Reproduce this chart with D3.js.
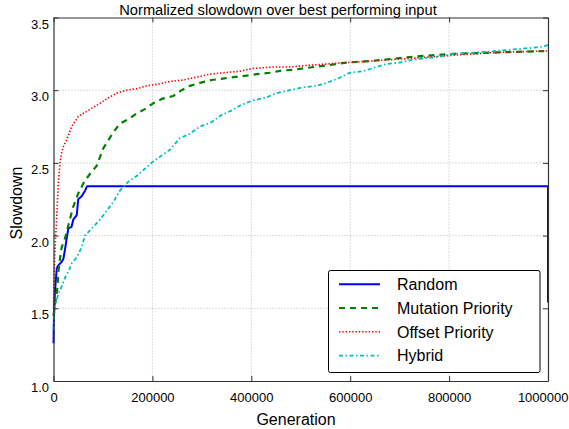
<!DOCTYPE html>
<html>
<head>
<meta charset="utf-8">
<script src="https://cdn.jsdelivr.net/npm/d3@7/dist/d3.min.js"></script>
<style>
  html, body { margin: 0; padding: 0; background: #fff; }
  svg { display: block; font-family: "Liberation Sans", Arial, Helvetica, sans-serif; }
</style>
</head>
<body>
<svg id="chart" width="569" height="429"></svg>
<script>
// ---------------- data ----------------
const seriesNames = ["Random", "Mutation Priority", "Offset Priority", "Hybrid"];

const randomGen = [0, 1000, 3000, 6500, 8500, 16500, 20000, 23000, 29900, 36500, 40000, 47000, 50000, 57000, 64000, 68000, 1000000, 1000000];
const randomVal = [1.26, 1.46, 1.62, 1.77, 1.79, 1.82, 1.84, 1.90, 2.05, 2.06, 2.11, 2.14, 2.25, 2.27, 2.31, 2.34, 2.34, 1.54];

const mutationGen = [0, 3000, 6500, 8500, 9700, 13100, 16600, 23200, 29900, 40000, 50100, 63600, 87300, 94000, 100600, 120800, 134300, 151100, 168100, 184800, 201600, 218600, 242000, 259000, 275700, 296000, 319600, 343000, 363200, 390300, 410500, 437300, 461000, 484400, 504600, 551900, 592000, 640000, 726000, 807000, 900000, 1000000];
const mutationVal = [1.45, 1.53, 1.60, 1.67, 1.75, 1.84, 1.92, 1.98, 2.07, 2.20, 2.29, 2.38, 2.48, 2.54, 2.60, 2.71, 2.77, 2.80, 2.84, 2.87, 2.91, 2.94, 2.96, 3.00, 3.03, 3.05, 3.07, 3.08, 3.09, 3.10, 3.11, 3.12, 3.135, 3.14, 3.15, 3.17, 3.19, 3.20, 3.23, 3.25, 3.26, 3.27];

const offsetGen = [0, 1000, 3000, 6500, 9700, 13000, 16500, 19800, 26700, 36800, 50100, 70000, 94000, 107500, 127700, 147900, 168100, 188300, 208500, 235300, 262200, 289300, 316100, 343000, 376700, 403600, 444000, 477700, 511500, 551900, 592300, 660000, 726200, 807000, 895000, 1000000];
const offsetVal = [1.5, 1.7, 1.9, 2.13, 2.36, 2.5, 2.57, 2.61, 2.66, 2.75, 2.82, 2.86, 2.91, 2.94, 2.98, 3.00, 3.01, 3.03, 3.04, 3.06, 3.07, 3.09, 3.11, 3.12, 3.13, 3.15, 3.16, 3.16, 3.17, 3.18, 3.19, 3.205, 3.22, 3.24, 3.26, 3.27];

const hybridGen = [0, 1500, 3000, 9700, 16600, 23200, 29900, 36800, 46900, 57000, 63600, 80400, 94000, 107500, 120800, 134300, 151100, 168100, 184800, 201600, 218600, 235300, 255500, 275700, 296000, 319600, 339800, 360000, 380200, 403600, 430700, 450900, 477700, 504600, 531700, 551900, 575300, 598900, 625800, 652900, 673100, 700000, 726200, 753900, 780800, 807000, 834700, 861500, 895300, 928200, 962500, 988800, 1000000];
const hybridVal = [1.35, 1.45, 1.51, 1.60, 1.65, 1.71, 1.75, 1.81, 1.85, 1.92, 2.00, 2.06, 2.11, 2.17, 2.23, 2.31, 2.37, 2.41, 2.46, 2.51, 2.55, 2.59, 2.67, 2.70, 2.75, 2.78, 2.83, 2.86, 2.90, 2.93, 2.95, 2.98, 3.00, 3.02, 3.03, 3.05, 3.08, 3.12, 3.13, 3.16, 3.18, 3.19, 3.21, 3.22, 3.23, 3.25, 3.255, 3.26, 3.27, 3.28, 3.29, 3.30, 3.31];

const xTicks = [0, 200000, 400000, 600000, 800000, 1000000];
const yTicks = [1.0, 1.5, 2.0, 2.5, 3.0, 3.5];

const titleText = "Normalized slowdown over best performing input";
const xLabel = "Generation";
const yLabel = "Slowdown";

// ---------------- layout / styles ----------------
const W = 569;
const L = 53.5, R = 548, T = 17.5, B = 381;
const svg = d3.select("#chart");

const x = d3.scaleLinear().domain([0, 1000000]).range([L, R]);
const y = d3.scaleLinear().domain([1.0, 3.5]).range([B, T]);

const styles = [
  { color: "#0000ff", width: 2, dash: null },
  { color: "#008000", width: 2.2, dash: "6,5" },
  { color: "#ff0000", width: 1.6, dash: "1.4,1.9" },
  { color: "#00bfbf", width: 1.8, dash: "4,2.5,1.5,2.5" }
];

// grid
const grid = svg.append("g");
grid.selectAll("line.gx").data(xTicks.slice(1, -1)).join("line")
  .attr("x1", d => x(d)).attr("x2", d => x(d)).attr("y1", T).attr("y2", B)
  .attr("stroke", "#b8b8b8").attr("stroke-width", 1).attr("stroke-dasharray", "1,2");
grid.selectAll("line.gy").data(yTicks.slice(1, -1)).join("line")
  .attr("x1", L).attr("x2", R).attr("y1", d => y(d)).attr("y2", d => y(d))
  .attr("stroke", "#b8b8b8").attr("stroke-width", 1).attr("stroke-dasharray", "1,2");

// series
const series = [
  { gen: randomGen, val: randomVal },
  { gen: mutationGen, val: mutationVal },
  { gen: offsetGen, val: offsetVal },
  { gen: hybridGen, val: hybridVal }
];
const line = d3.line().x(d => x(d[0])).y(d => y(d[1]));
series.forEach((s, i) => {
  const pts = s.gen.map((g, j) => [g, s.val[j]]);
  svg.append("path").datum(pts)
    .attr("d", line)
    .attr("fill", "none")
    .attr("stroke", styles[i].color)
    .attr("stroke-width", styles[i].width)
    .attr("stroke-dasharray", styles[i].dash)
    .attr("stroke-linejoin", "round");
});

// axes
const axisColor = "#333";
const gx = svg.append("g").attr("transform", `translate(0,${B})`)
  .call(d3.axisBottom(x).tickValues(xTicks).tickFormat(d3.format("d")).tickSize(-5).tickSizeOuter(0));
gx.selectAll("text").attr("y", 0).attr("dy", 20.5).style("font-size", "13px").attr("fill", "#000");
// keep the last label inside the picture
gx.selectAll(".tick").filter(d => d === xTicks[xTicks.length - 1]).select("text")
  .attr("text-anchor", "end").attr("x", (W - 1) - R);

const gy = svg.append("g").attr("transform", `translate(${L},0)`)
  .call(d3.axisLeft(y).tickValues(yTicks).tickFormat(d3.format(".1f")).tickSize(-5).tickSizeOuter(0).tickPadding(4.5));
gy.selectAll("text").attr("dy", 10.5).style("font-size", "13px").attr("fill", "#000");

const gt = svg.append("g").attr("transform", `translate(0,${T})`)
  .call(d3.axisTop(x).tickValues(xTicks).tickFormat("").tickSize(-5).tickSizeOuter(0));
const gr = svg.append("g").attr("transform", `translate(${R},0)`)
  .call(d3.axisRight(y).tickValues(yTicks).tickFormat("").tickSize(-5).tickSizeOuter(0));

[gx, gy, gt, gr].forEach(g => {
  g.selectAll("path.domain").attr("stroke", axisColor).attr("stroke-width", 1.2);
  g.selectAll(".tick line").attr("stroke", axisColor);
  g.attr("font-family", null).attr("font-size", null);
});

// labels
svg.append("text").attr("x", 278).attr("y", 15)
  .attr("text-anchor", "middle").style("font-size", "14.7px").text(titleText);
svg.append("text").attr("x", 296).attr("y", 424.5)
  .attr("text-anchor", "middle").style("font-size", "16px").text(xLabel);
svg.append("text").attr("transform", "translate(21.5,203) rotate(-90)")
  .attr("text-anchor", "middle").style("font-size", "16px").text(yLabel);

// legend
const lg = svg.append("g");
lg.append("rect").attr("x", 328.5).attr("y", 270.5).attr("width", 211.5).attr("height", 102)
  .attr("rx", 2).attr("fill", "#fff").attr("stroke", "#000").attr("stroke-width", 1);
const rowBase = [290, 313.8, 337.6, 361.4];
seriesNames.forEach((name, i) => {
  lg.append("line").attr("x1", 339).attr("x2", 380)
    .attr("y1", rowBase[i] - 5.8).attr("y2", rowBase[i] - 5.8)
    .attr("stroke", styles[i].color).attr("stroke-width", styles[i].width)
    .attr("stroke-dasharray", styles[i].dash);
  lg.append("text").attr("x", 397).attr("y", rowBase[i])
    .style("font-size", "16px").text(name);
});
</script>
</body>
</html>
